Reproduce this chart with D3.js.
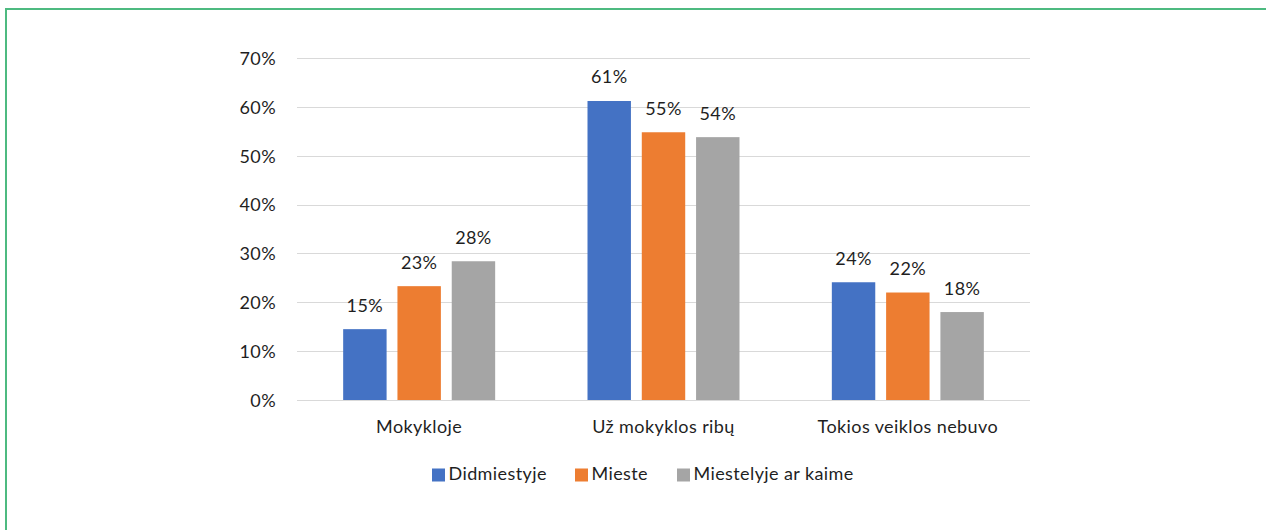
<!DOCTYPE html>
<html>
<head>
<meta charset="utf-8">
<script src="https://cdn.jsdelivr.net/npm/d3@7"></script>
<style>
  html, body { margin: 0; padding: 0; background: #fff; }
  svg { display: block; }
  text { font-family: Lato, "Open Sans", sans-serif; fill: #1f1f1f; letter-spacing: 0.4px; }
</style>
</head>
<body>
<svg id="chart" width="1266" height="530"></svg>
<script>
// Survey answers by place of residence (share of respondents, %)
const categories = ["Mokykloje", "Už mokyklos ribų", "Tokios veiklos nebuvo"];
const seriesNames = ["Didmiestyje", "Mieste", "Miestelyje ar kaime"];
const didmiestyje = [14.5, 61.2, 24.1];
const mieste = [23.3, 54.8, 22.0];
const miestelyje = [28.4, 53.8, 18.0];
const yTicks = [0, 10, 20, 30, 40, 50, 60, 70];
const colors = ["#4472c4", "#ed7d31", "#a5a5a5"];

const seriesValues = [didmiestyje, mieste, miestelyje];

const svg = d3.select("#chart");
const W = 1266, H = 530;
const FS = "18px";

// Frame
svg.append("line").attr("x1", 6).attr("x2", W).attr("y1", 9).attr("y2", 9)
  .attr("stroke", "#4dba80").attr("stroke-width", 2);
svg.append("line").attr("x1", 6).attr("x2", 6).attr("y1", 8).attr("y2", H)
  .attr("stroke", "#4dba80").attr("stroke-width", 2);

const plot = { left: 297, right: 1030, top: 58, bottom: 400 };
const groupWidth = 152;

const x0 = d3.scaleBand().domain(categories).range([plot.left, plot.right]).paddingInner(0).paddingOuter(0);
const x1 = d3.scaleBand().domain(seriesNames).range([0, groupWidth]).paddingInner(0.2).paddingOuter(0);
const y = d3.scaleLinear().domain([0, 70]).range([plot.bottom, plot.top]);

// Gridlines
svg.append("g").selectAll("line").data(yTicks).join("line")
  .attr("x1", plot.left).attr("x2", plot.right)
  .attr("y1", d => Math.round(y(d)) + 0.5).attr("y2", d => Math.round(y(d)) + 0.5)
  .attr("stroke", "#d9d9d9").attr("stroke-width", 1);

// Y axis labels
const yAxis = d3.axisLeft(y).tickValues(yTicks).tickSize(0).tickPadding(0).tickFormat(d => d + "%");
const yg = svg.append("g").attr("transform", `translate(${plot.left - 21},0)`).call(yAxis);
yg.select(".domain").remove();
yg.selectAll("text").style("font-size", FS).style("font-family", "Lato, 'Open Sans', sans-serif")
  .attr("fill", "#1f1f1f").attr("dy", "0.35em");

// Bars and value labels
const groups = svg.append("g").selectAll("g").data(categories).join("g")
  .attr("transform", d => `translate(${x0(d) + (x0.bandwidth() - groupWidth) / 2},0)`);

groups.each(function(cat, ci) {
  const g = d3.select(this);
  const data = seriesNames.map((s, si) => ({ s, si, v: seriesValues[si][ci] }));
  g.selectAll("rect").data(data).join("rect")
    .attr("x", d => x1(d.s))
    .attr("width", x1.bandwidth())
    .attr("y", d => y(d.v))
    .attr("height", d => y(0) - y(d.v))
    .attr("fill", d => colors[d.si]);
  g.selectAll("text.lbl").data(data).join("text").attr("class", "lbl")
    .attr("x", d => x1(d.s) + x1.bandwidth() / 2)
    .attr("y", d => y(d.v) - 17.5)
    .attr("text-anchor", "middle")
    .style("font-size", FS)
    .text(d => Math.round(d.v) + "%");
});

// Category labels
svg.append("g").selectAll("text").data(categories).join("text")
  .attr("x", d => x0(d) + x0.bandwidth() / 2)
  .attr("y", 433)
  .attr("text-anchor", "middle")
  .style("font-size", FS)
  .text(d => d);

// Legend
const legendX = [432, 575, 677];
const lg = svg.append("g").selectAll("g").data(seriesNames).join("g")
  .attr("transform", (d, i) => `translate(${legendX[i]},468.5)`);
lg.append("rect").attr("width", 13).attr("height", 13).attr("fill", (d, i) => colors[i]);
lg.append("text").attr("x", 16.5).attr("y", 11.5).style("font-size", FS).text(d => d);
</script>
</body>
</html>
